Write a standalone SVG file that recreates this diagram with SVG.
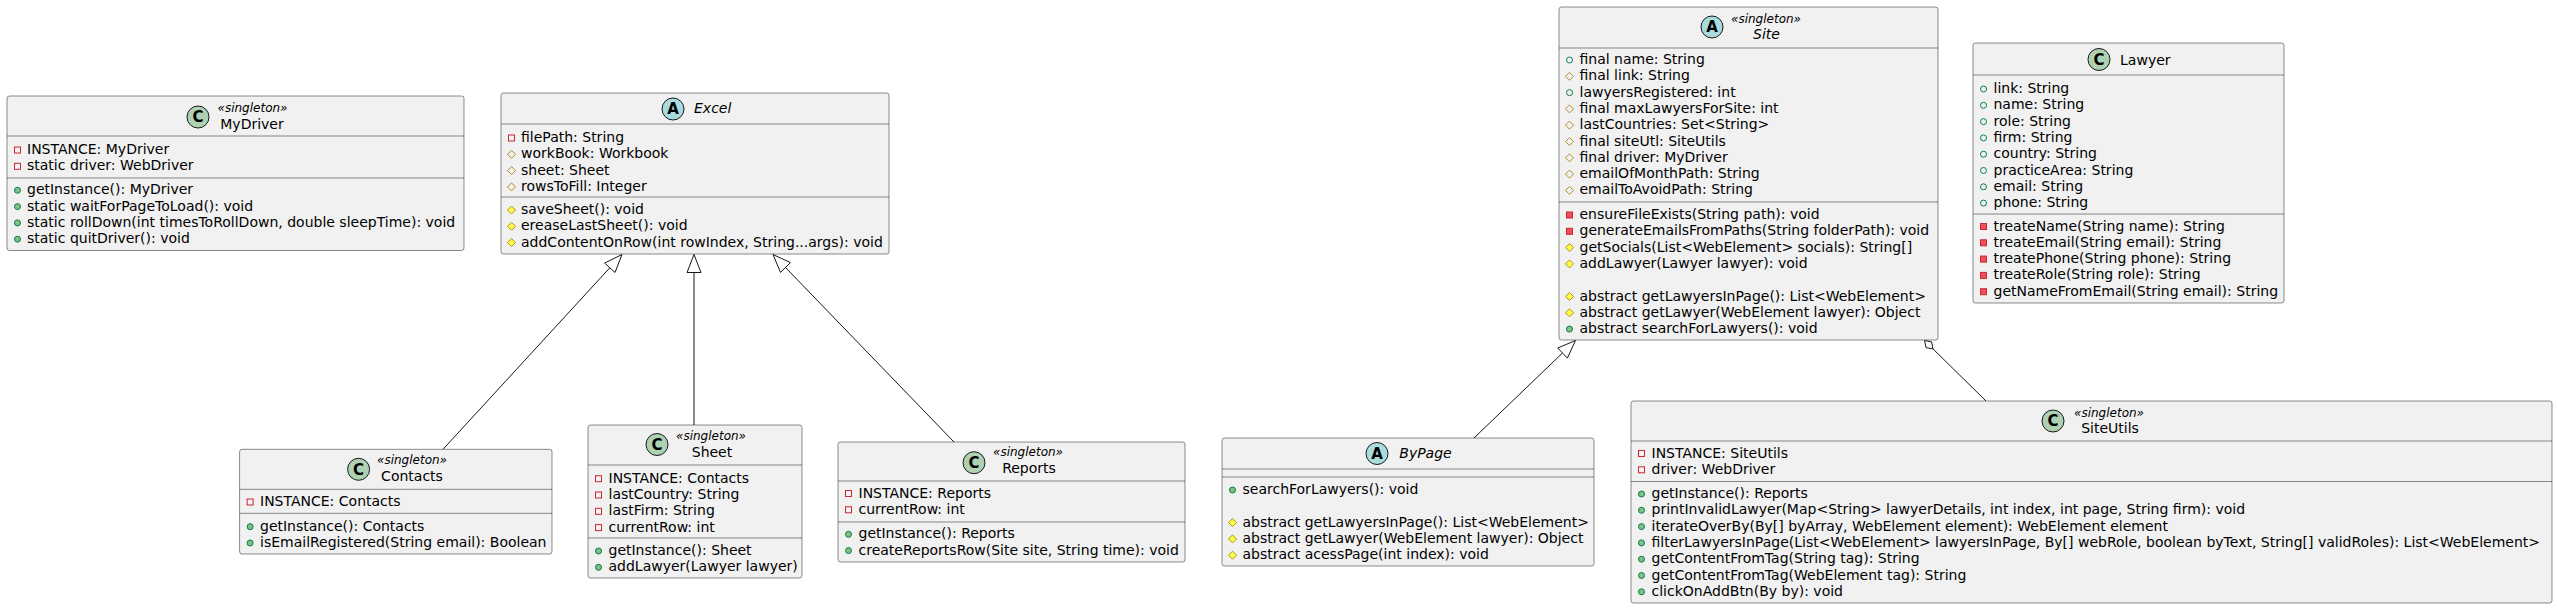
<svg xmlns="http://www.w3.org/2000/svg" xmlns:xlink="http://www.w3.org/1999/xlink" width="2557" height="609" viewBox="0 0 2557 609">
<style>
.box{fill:#F1F1F1;stroke:#181818;stroke-width:0.5}
.sep{stroke:#181818;stroke-width:0.5}
text{font-family:"DejaVu Sans","Liberation Sans",sans-serif;font-size:14px;fill:#000000}
.st{font-size:12px;font-style:italic;text-anchor:middle}
.nm{text-anchor:middle}
.it{font-style:italic}
.cc{fill:#ADD1B2;stroke:#181818;stroke-width:1}
.ca{fill:#A9DCDF;stroke:#181818;stroke-width:1}
.lt{font-size:15px;font-weight:bold;text-anchor:middle}
.pf{fill:none;stroke:#C82930;stroke-width:1}
.pm{fill:#F24D5C;stroke:#C82930;stroke-width:1}
.rf{fill:none;stroke:#B38D22;stroke-width:1}
.rm{fill:#FFFF44;stroke:#B38D22;stroke-width:1}
.uf{fill:none;stroke:#038048;stroke-width:1}
.um{fill:#84BE84;stroke:#038048;stroke-width:1}
.edge{fill:none;stroke:#181818;stroke-width:1}
.head{fill:none;stroke:#181818;stroke-width:1}
</style>
<defs>
<rect id="pf" class="pf" x="-3" y="-3" width="6" height="6"/>
<rect id="pm" class="pm" x="-3" y="-3" width="6" height="6"/>
<polygon id="rf" class="rf" points="0,-4 4,0 0,4 -4,0"/>
<polygon id="rm" class="rm" points="0,-4 4,0 0,4 -4,0"/>
<circle id="uf" class="uf" r="3"/>
<circle id="um" class="um" r="3"/>
</defs>

<g id="connectors">
<path class="edge" d="M609.8,267.8 L443,449.3"/>
<polygon class="head" points="622,254.5 615,272.5 604.6,263.1"/>
<path class="edge" d="M694,272.5 L694,425"/>
<polygon class="head" points="694,254.5 701,272.5 687,272.5"/>
<path class="edge" d="M785.5,267.5 L954,442"/>
<polygon class="head" points="773,254.5 790.5,262.6 780.5,272.4"/>
<path class="edge" d="M1562.5,353 L1474,438"/>
<polygon class="head" points="1575.5,340.5 1567.4,358.1 1557.7,348"/>
<path class="edge" d="M1933,348.9 L1986,401"/>
<polygon class="head" points="1924.5,340.5 1931.6,341.9 1933,348.9 1926,347.6"/>
</g>

<g id="MyDriver">
<rect class="box" x="7" y="96" width="457" height="154.5" rx="2.5"/>
<circle class="cc" cx="198" cy="117" r="11"/>
<text class="lt" x="198" y="122.4">C</text>
<text class="st" x="252.5" y="112">«singleton»</text>
<text class="nm" x="252" y="128.5">MyDriver</text>
<line class="sep" x1="7" y1="136" x2="464" y2="136"/>
<use xlink:href="#pf" x="17.5" y="150"/><text x="27" y="154">INSTANCE: MyDriver</text>
<use xlink:href="#pf" x="17.5" y="166.3"/><text x="27" y="170.3">static driver: WebDriver</text>
<line class="sep" x1="7" y1="178" x2="464" y2="178"/>
<use xlink:href="#um" x="17.5" y="190.3"/><text x="27" y="194.3">getInstance(): MyDriver</text>
<use xlink:href="#um" x="17.5" y="206.6"/><text x="27" y="210.6">static waitForPageToLoad(): void</text>
<use xlink:href="#um" x="17.5" y="222.9"/><text x="27" y="226.9">static rollDown(int timesToRollDown, double sleepTime): void</text>
<use xlink:href="#um" x="17.5" y="239.2"/><text x="27" y="243.2">static quitDriver(): void</text>
</g>

<g id="Excel">
<rect class="box" x="501" y="93" width="388" height="161" rx="2.5"/>
<circle class="ca" cx="673" cy="109" r="11"/>
<text class="lt" x="673" y="114.4">A</text>
<text class="nm it" x="712.7" y="113.3">Excel</text>
<line class="sep" x1="501" y1="124" x2="889" y2="124"/>
<use xlink:href="#pf" x="511.5" y="138"/><text x="521" y="142">filePath: String</text>
<use xlink:href="#rf" x="511.5" y="154.3"/><text x="521" y="158.3">workBook: Workbook</text>
<use xlink:href="#rf" x="511.5" y="170.6"/><text x="521" y="174.6">sheet: Sheet</text>
<use xlink:href="#rf" x="511.5" y="186.9"/><text x="521" y="190.9">rowsToFill: Integer</text>
<line class="sep" x1="501" y1="197" x2="889" y2="197"/>
<use xlink:href="#rm" x="511.5" y="210"/><text x="521" y="214">saveSheet(): void</text>
<use xlink:href="#rm" x="511.5" y="226.3"/><text x="521" y="230.3">ereaseLastSheet(): void</text>
<use xlink:href="#rm" x="511.5" y="242.6"/><text x="521" y="246.6">addContentOnRow(int rowIndex, String...args): void</text>
</g>

<g id="Site">
<rect class="box" x="1559" y="7" width="379" height="333" rx="2.5"/>
<circle class="ca" cx="1712" cy="27" r="11"/>
<text class="lt" x="1712" y="32.4">A</text>
<text class="st" x="1766" y="22.5">«singleton»</text>
<text class="nm it" x="1766.5" y="39">Site</text>
<line class="sep" x1="1559" y1="48" x2="1938" y2="48"/>
<use xlink:href="#uf" x="1569.5" y="60"/><text x="1579.5" y="64">final name: String</text>
<use xlink:href="#rf" x="1569.5" y="76.3"/><text x="1579.5" y="80.3">final link: String</text>
<use xlink:href="#uf" x="1569.5" y="92.6"/><text x="1579.5" y="96.6">lawyersRegistered: int</text>
<use xlink:href="#rf" x="1569.5" y="108.9"/><text x="1579.5" y="112.9">final maxLawyersForSite: int</text>
<use xlink:href="#rf" x="1569.5" y="125.2"/><text x="1579.5" y="129.2">lastCountries: Set&lt;String&gt;</text>
<use xlink:href="#rf" x="1569.5" y="141.5"/><text x="1579.5" y="145.5">final siteUtl: SiteUtils</text>
<use xlink:href="#rf" x="1569.5" y="157.8"/><text x="1579.5" y="161.8">final driver: MyDriver</text>
<use xlink:href="#rf" x="1569.5" y="174.1"/><text x="1579.5" y="178.1">emailOfMonthPath: String</text>
<use xlink:href="#rf" x="1569.5" y="190.4"/><text x="1579.5" y="194.4">emailToAvoidPath: String</text>
<line class="sep" x1="1559" y1="202" x2="1938" y2="202"/>
<use xlink:href="#pm" x="1569.5" y="215"/><text x="1579.5" y="219">ensureFileExists(String path): void</text>
<use xlink:href="#pm" x="1569.5" y="231.3"/><text x="1579.5" y="235.3">generateEmailsFromPaths(String folderPath): void</text>
<use xlink:href="#rm" x="1569.5" y="247.6"/><text x="1579.5" y="251.6">getSocials(List&lt;WebElement&gt; socials): String[]</text>
<use xlink:href="#rm" x="1569.5" y="263.9"/><text x="1579.5" y="267.9">addLawyer(Lawyer lawyer): void</text>
<use xlink:href="#rm" x="1569.5" y="296.5"/><text x="1579.5" y="300.5">abstract getLawyersInPage(): List&lt;WebElement&gt;</text>
<use xlink:href="#rm" x="1569.5" y="312.8"/><text x="1579.5" y="316.8">abstract getLawyer(WebElement lawyer): Object</text>
<use xlink:href="#um" x="1569.5" y="329.1"/><text x="1579.5" y="333.1">abstract searchForLawyers(): void</text>
</g>

<g id="Lawyer">
<rect class="box" x="1973" y="43" width="311" height="260" rx="2.5"/>
<circle class="cc" cx="2099" cy="59.5" r="11"/>
<text class="lt" x="2099" y="64.9">C</text>
<text class="nm" x="2145.3" y="65">Lawyer</text>
<line class="sep" x1="1973" y1="75" x2="2284" y2="75"/>
<use xlink:href="#uf" x="1983.5" y="89"/><text x="1993.5" y="93">link: String</text>
<use xlink:href="#uf" x="1983.5" y="105.3"/><text x="1993.5" y="109.3">name: String</text>
<use xlink:href="#uf" x="1983.5" y="121.6"/><text x="1993.5" y="125.6">role: String</text>
<use xlink:href="#uf" x="1983.5" y="137.9"/><text x="1993.5" y="141.9">firm: String</text>
<use xlink:href="#uf" x="1983.5" y="154.2"/><text x="1993.5" y="158.2">country: String</text>
<use xlink:href="#uf" x="1983.5" y="170.5"/><text x="1993.5" y="174.5">practiceArea: String</text>
<use xlink:href="#uf" x="1983.5" y="186.8"/><text x="1993.5" y="190.8">email: String</text>
<use xlink:href="#uf" x="1983.5" y="203.1"/><text x="1993.5" y="207.1">phone: String</text>
<line class="sep" x1="1973" y1="214" x2="2284" y2="214"/>
<use xlink:href="#pm" x="1983.5" y="226.5"/><text x="1993.5" y="230.5">treateName(String name): String</text>
<use xlink:href="#pm" x="1983.5" y="242.8"/><text x="1993.5" y="246.8">treateEmail(String email): String</text>
<use xlink:href="#pm" x="1983.5" y="259.1"/><text x="1993.5" y="263.1">treatePhone(String phone): String</text>
<use xlink:href="#pm" x="1983.5" y="275.4"/><text x="1993.5" y="279.4">treateRole(String role): String</text>
<use xlink:href="#pm" x="1983.5" y="291.7"/><text x="1993.5" y="295.7">getNameFromEmail(String email): String</text>
</g>

<g id="Contacts">
<rect class="box" x="239.6" y="449.3" width="312.4" height="104.7" rx="2.5"/>
<circle class="cc" cx="358.6" cy="469.3" r="11"/>
<text class="lt" x="358.6" y="474.7">C</text>
<text class="st" x="412" y="463.5">«singleton»</text>
<text class="nm" x="412" y="481">Contacts</text>
<line class="sep" x1="239.6" y1="489.3" x2="552" y2="489.3"/>
<use xlink:href="#pf" x="250.1" y="502"/><text x="260" y="506">INSTANCE: Contacts</text>
<line class="sep" x1="239.6" y1="513.3" x2="552" y2="513.3"/>
<use xlink:href="#um" x="250.1" y="526.7"/><text x="260" y="530.7">getInstance(): Contacts</text>
<use xlink:href="#um" x="250.1" y="543"/><text x="260" y="547">isEmailRegistered(String email): Boolean</text>
</g>

<g id="Sheet">
<rect class="box" x="588" y="425" width="214" height="153" rx="2.5"/>
<circle class="cc" cx="657" cy="444.5" r="11"/>
<text class="lt" x="657" y="449.9">C</text>
<text class="st" x="711" y="440">«singleton»</text>
<text class="nm" x="712" y="457">Sheet</text>
<line class="sep" x1="588" y1="465" x2="802" y2="465"/>
<use xlink:href="#pf" x="598.5" y="478.7"/><text x="608.5" y="482.7">INSTANCE: Contacts</text>
<use xlink:href="#pf" x="598.5" y="495"/><text x="608.5" y="499">lastCountry: String</text>
<use xlink:href="#pf" x="598.5" y="511.3"/><text x="608.5" y="515.3">lastFirm: String</text>
<use xlink:href="#pf" x="598.5" y="527.6"/><text x="608.5" y="531.6">currentRow: int</text>
<line class="sep" x1="588" y1="538" x2="802" y2="538"/>
<use xlink:href="#um" x="598.5" y="551"/><text x="608.5" y="555">getInstance(): Sheet</text>
<use xlink:href="#um" x="598.5" y="567.3"/><text x="608.5" y="571.3">addLawyer(Lawyer lawyer)</text>
</g>

<g id="Reports">
<rect class="box" x="838" y="442" width="347" height="120" rx="2.5"/>
<circle class="cc" cx="974" cy="462.7" r="11"/>
<text class="lt" x="974" y="468.1">C</text>
<text class="st" x="1028" y="456">«singleton»</text>
<text class="nm" x="1029" y="472.7">Reports</text>
<line class="sep" x1="838" y1="481" x2="1185" y2="481"/>
<use xlink:href="#pf" x="848.5" y="493.5"/><text x="858.5" y="497.5">INSTANCE: Reports</text>
<use xlink:href="#pf" x="848.5" y="509.8"/><text x="858.5" y="513.8">currentRow: int</text>
<line class="sep" x1="838" y1="522" x2="1185" y2="522"/>
<use xlink:href="#um" x="848.5" y="534.3"/><text x="858.5" y="538.3">getInstance(): Reports</text>
<use xlink:href="#um" x="848.5" y="550.6"/><text x="858.5" y="554.6">createReportsRow(Site site, String time): void</text>
</g>

<g id="ByPage">
<rect class="box" x="1222" y="438" width="372" height="128" rx="2.5"/>
<circle class="ca" cx="1377" cy="453.5" r="11"/>
<text class="lt" x="1377" y="458.9">A</text>
<text class="nm it" x="1425.5" y="457.7">ByPage</text>
<line class="sep" x1="1222" y1="469" x2="1594" y2="469"/>
<line class="sep" x1="1222" y1="477" x2="1594" y2="477"/>
<use xlink:href="#um" x="1232.5" y="490"/><text x="1242.5" y="494">searchForLawyers(): void</text>
<use xlink:href="#rm" x="1232.5" y="522.6"/><text x="1242.5" y="526.6">abstract getLawyersInPage(): List&lt;WebElement&gt;</text>
<use xlink:href="#rm" x="1232.5" y="538.9"/><text x="1242.5" y="542.9">abstract getLawyer(WebElement lawyer): Object</text>
<use xlink:href="#rm" x="1232.5" y="555.2"/><text x="1242.5" y="559.2">abstract acessPage(int index): void</text>
</g>

<g id="SiteUtils">
<rect class="box" x="1631" y="401" width="921" height="202" rx="2.5"/>
<circle class="cc" cx="2053" cy="421" r="11"/>
<text class="lt" x="2053" y="426.4">C</text>
<text class="st" x="2109" y="416.5">«singleton»</text>
<text class="nm" x="2110" y="432.5">SiteUtils</text>
<line class="sep" x1="1631" y1="441" x2="2552" y2="441"/>
<use xlink:href="#pf" x="1641.5" y="453.5"/><text x="1651.5" y="457.5">INSTANCE: SiteUtils</text>
<use xlink:href="#pf" x="1641.5" y="469.8"/><text x="1651.5" y="473.8">driver: WebDriver</text>
<line class="sep" x1="1631" y1="481.5" x2="2552" y2="481.5"/>
<use xlink:href="#um" x="1641.5" y="494"/><text x="1651.5" y="498">getInstance(): Reports</text>
<use xlink:href="#um" x="1641.5" y="510.3"/><text x="1651.5" y="514.3">printInvalidLawyer(Map&lt;String&gt; lawyerDetails, int index, int page, String firm): void</text>
<use xlink:href="#um" x="1641.5" y="526.6"/><text x="1651.5" y="530.6">iterateOverBy(By[] byArray, WebElement element): WebElement element</text>
<use xlink:href="#um" x="1641.5" y="542.9"/><text x="1651.5" y="546.9">filterLawyersInPage(List&lt;WebElement&gt; lawyersInPage, By[] webRole, boolean byText, String[] validRoles): List&lt;WebElement&gt;</text>
<use xlink:href="#um" x="1641.5" y="559.2"/><text x="1651.5" y="563.2">getContentFromTag(String tag): String</text>
<use xlink:href="#um" x="1641.5" y="575.5"/><text x="1651.5" y="579.5">getContentFromTag(WebElement tag): String</text>
<use xlink:href="#um" x="1641.5" y="591.8"/><text x="1651.5" y="595.8">clickOnAddBtn(By by): void</text>
</g>
</svg>
